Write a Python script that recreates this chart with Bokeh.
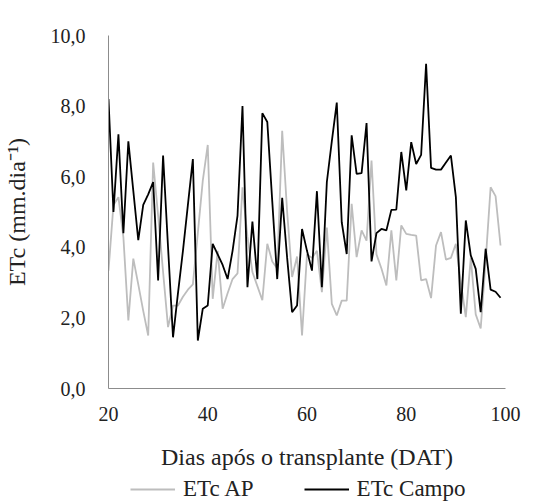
from bokeh.plotting import figure
from bokeh.models import Range1d, FixedTicker, Legend, LegendItem
from bokeh.layouts import column
from bokeh.embed import file_html
from bokeh.resources import INLINE

days = list(range(20, 100))

etc_ap = [3.34, 5.2, 5.42, 4.29, 1.93, 3.68, 2.95, 2.2, 1.5, 6.4,
          4.9, 3.3, 1.74, 2.35, 2.35, 2.6, 2.8, 2.95, 4.4, 5.89,
          6.9, 2.54, 3.9, 2.26, 2.7, 3.1, 3.26, 5.7, 4.3, 3.3,
          2.9, 2.5, 4.1, 3.6, 3.4, 7.3, 5.0, 3.16, 3.74, 1.5,
          3.8, 3.7, 3.9, 2.73, 4.56, 2.4, 2.07, 2.49, 2.49, 5.23,
          3.72, 4.48, 4.19, 6.46, 3.8, 3.4, 2.92, 4.48, 3.06, 4.62,
          4.38, 4.35, 4.33, 3.06, 3.1, 2.56, 4.05, 4.43, 3.65, 3.7,
          4.1, 3.0, 2.02, 3.7, 2.1, 1.7, 3.6, 5.7, 5.45, 4.05]

etc_campo = [8.2, 5.0, 7.2, 4.4, 7.0, 5.6, 4.2, 5.2, 5.5, 5.85,
             3.06, 6.6, 4.0, 1.45, 2.7, 3.9, 5.2, 6.5, 1.36, 2.26,
             2.35, 4.1, 3.8, 3.5, 3.1, 3.9, 4.9, 8.0, 2.87, 4.73,
             3.1, 7.8, 7.55, 5.3, 3.1, 5.4, 3.7, 2.16, 2.35, 4.52,
             3.9, 3.34, 5.59, 2.87, 5.85, 7.0, 8.1, 4.71, 3.81, 7.17,
             6.08, 6.1, 7.52, 3.6, 4.4, 4.52, 4.48, 5.06, 5.07, 6.7,
             5.61, 6.98, 6.36, 6.62, 9.2, 6.25, 6.2, 6.2, 6.4, 6.6,
             5.42, 2.12, 4.76, 3.77, 3.39, 2.16, 3.96, 2.8, 2.74, 2.57]

x_ticks = [20, 40, 60, 80, 100]
x_tick_labels = ["20", "40", "60", "80", "100"]
y_ticks = [0, 2, 4, 6, 8, 10]
y_tick_labels = ["0,0", "2,0", "4,0", "6,0", "8,0", "10,0"]

series_names = ["ETc AP", "ETc Campo"]
series_colors = ["#bdbdbd", "#000000"]
x_title = "Dias após o transplante (DAT)"
y_title = "ETc (mm.dia⁻¹)"

FONT = "Liberation Serif"
TXT = "#222222"

p = figure(width=549, height=476, output_backend="svg", toolbar_location=None,
           x_range=Range1d(20, 100), y_range=Range1d(0, 10),
           min_border_left=103, min_border_right=44, min_border_top=35,
           min_border_bottom=88)
p.outline_line_color = None
p.xgrid.visible = False
p.ygrid.visible = False

r_ap = p.line(days, etc_ap, line_color=series_colors[0], line_width=1.8)
r_campo = p.line(days, etc_campo, line_color=series_colors[1], line_width=1.8)

for ax in (p.xaxis[0], p.yaxis[0]):
    ax.axis_line_color = "#8c8c8c"
    ax.axis_line_width = 1
    ax.major_tick_line_color = None
    ax.minor_tick_line_color = None
    ax.major_label_text_font = FONT
    ax.major_label_text_font_size = "20px"
    ax.major_label_text_color = TXT
    ax.axis_label_text_font = FONT
    ax.axis_label_text_font_size = "24px"
    ax.axis_label_text_font_style = "normal"
    ax.axis_label_text_color = TXT

p.xaxis.ticker = FixedTicker(ticks=x_ticks)
p.xaxis.major_label_overrides = dict(zip(x_ticks, x_tick_labels))
p.yaxis.ticker = FixedTicker(ticks=y_ticks)
p.yaxis.major_label_overrides = dict(zip(y_ticks, y_tick_labels))
p.xaxis.axis_label = x_title
p.yaxis.axis_label = y_title
p.xaxis.major_label_standoff = 12
p.xaxis.axis_label_standoff = 20
p.yaxis.major_label_standoff = 17
p.yaxis.axis_label_standoff = 18

# legend strip below the chart (its frame is aligned with the chart frame);
# its series lie outside this strip's ranges, so only the legend shows
lf = figure(width=549, height=26, output_backend="svg", toolbar_location=None,
            x_range=Range1d(0, 1), y_range=Range1d(0, 1),
            x_axis_location=None, y_axis_location=None, min_border=0)
lf.grid.visible = False
lf.outline_line_color = None
g_ap = lf.line(days, etc_ap, line_color=series_colors[0], line_width=1.8)
g_campo = lf.line(days, etc_campo, line_color=series_colors[1], line_width=1.8)

legend = Legend(items=[LegendItem(label=series_names[0], renderers=[g_ap]),
                       LegendItem(label=series_names[1], renderers=[g_campo])],
                orientation="horizontal", location=(22, 0),
                border_line_color=None, background_fill_alpha=0,
                glyph_width=45, glyph_height=26, label_height=26,
                label_standoff=8, spacing=50,
                padding=0, margin=0,
                label_text_font=FONT, label_text_font_size="23px",
                label_text_color=TXT)
lf.add_layout(legend, "center")

layout = column(p, lf, spacing=0)
open("out.html", "w").write(file_html(layout, INLINE))
